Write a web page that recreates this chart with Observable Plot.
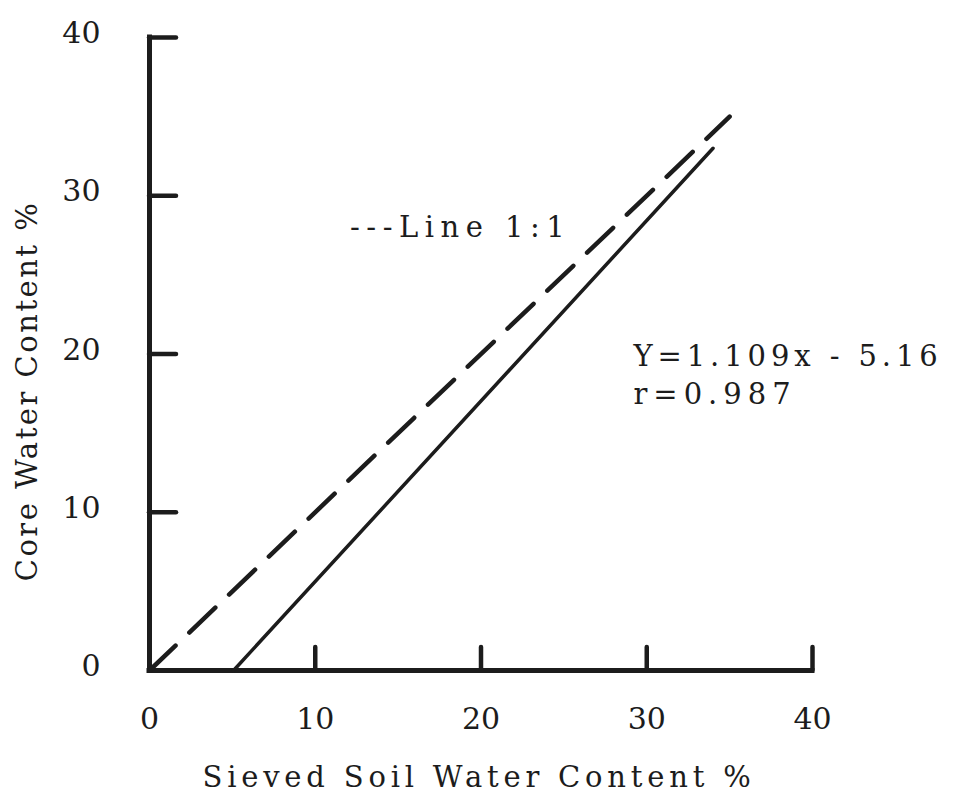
<!DOCTYPE html>
<html>
<head>
<meta charset="utf-8">
<script src="https://cdn.jsdelivr.net/npm/d3@7"></script>
<script src="https://cdn.jsdelivr.net/npm/@observablehq/plot@0.6"></script>
<style>
  html, body { margin: 0; padding: 0; background: #ffffff; }
  #chart { width: 976px; height: 802px; }
  .note-line text { letter-spacing: 6.5px; }
  .note-eq text { letter-spacing: 4.9px; }
  .note-r text { letter-spacing: 6px; }
  .title-x text { letter-spacing: 4.8px; }
  .title-y text { letter-spacing: 2.5px; }
</style>
</head>
<body>
<div id="chart"></div>
<script>
// ---- data ----
const xTicks = [0, 10, 20, 30, 40];
const yTicks = [0, 10, 20, 30, 40];
const innerTicksX = [10, 20, 30, 40];
const innerTicksY = [10, 20, 30, 40];
const lineOneToOneX = [0, 35];
const lineOneToOneY = [0, 35];
const regressionX = [5.07, 34.0];
const regressionY = [0, 33.0];
const noteTexts = ["---Line 1:1", "Y=1.109x - 5.16", "r=0.987"];
const noteX = [12.1, 29.2, 29.2];
const noteY = [28.0, 19.8, 17.4];
const xTitle = "Sieved Soil Water Content %";
const yTitle = "Core Water Content %";

const ink = "#1c1c1c";
const font = "'DejaVu Serif', 'Liberation Serif', serif";

const oneToOne = lineOneToOneX.map((x, i) => ({x, y: lineOneToOneY[i]}));
const regression = regressionX.map((x, i) => ({x, y: regressionY[i]}));
const notes = noteTexts.map((t, i) => ({t, x: noteX[i], y: noteY[i]}));
const noteClasses = ["note-line", "note-eq", "note-r"];

const chart = Plot.plot({
  width: 976,
  height: 802,
  marginLeft: 149,
  marginRight: 164,
  marginTop: 37,
  marginBottom: 132,
  x: {domain: [0, 40], label: null},
  y: {domain: [0, 40], label: null},
  style: {fontFamily: font, fontSize: "30px", color: ink, background: "#ffffff", overflow: "visible"},
  marks: [
    // tick labels
    Plot.axisX({ticks: xTicks, tickSize: 0, tickPadding: 37, tickFormat: d => String(d), fill: ink, fontSize: 30, label: null}),
    Plot.axisY({ticks: yTicks, tickSize: 0, tickPadding: 49, tickFormat: d => String(d), fill: ink, fontSize: 30, dy: -4, label: null}),
    // inward ticks
    Plot.ruleX(innerTicksX, {x: d => d, y1: 0, y2: 0, insetTop: -23, insetBottom: 0, stroke: ink, strokeWidth: 4.5, strokeLinecap: "round"}),
    Plot.ruleY(innerTicksY, {y: d => d, x1: 0, x2: 0, insetLeft: 0, insetRight: -27, stroke: ink, strokeWidth: 4.5, strokeLinecap: "round"}),
    // axis lines
    Plot.ruleX([0], {y1: 0, y2: 40, stroke: ink, strokeWidth: 5, strokeLinecap: "square"}),
    Plot.ruleY([0], {x1: 0, x2: 40, stroke: ink, strokeWidth: 5, strokeLinecap: "square"}),
    // 1:1 dashed line
    Plot.line(oneToOne, {x: "x", y: "y", stroke: ink, strokeWidth: 4.5, strokeDasharray: "36,19", strokeLinecap: "round"}),
    // regression line
    Plot.line(regression, {x: "x", y: "y", stroke: ink, strokeWidth: 3.5, strokeLinecap: "round"}),
    // annotations
    ...notes.map((n, i) => Plot.text([n], {x: "x", y: "y", text: "t", textAnchor: "start", fill: ink, fontSize: 29, className: noteClasses[i]})),
    // axis titles
    Plot.text([xTitle], {frameAnchor: "bottom", text: d => d, dy: 116, dx: -2, fill: ink, fontSize: 29, className: "title-x"}),
    Plot.text([yTitle], {frameAnchor: "left", text: d => d, textAnchor: "middle", dx: -122, dy: 37, rotate: -90, fill: ink, fontSize: 29, className: "title-y"})
  ]
});

document.getElementById("chart").appendChild(chart);
</script>
</body>
</html>
